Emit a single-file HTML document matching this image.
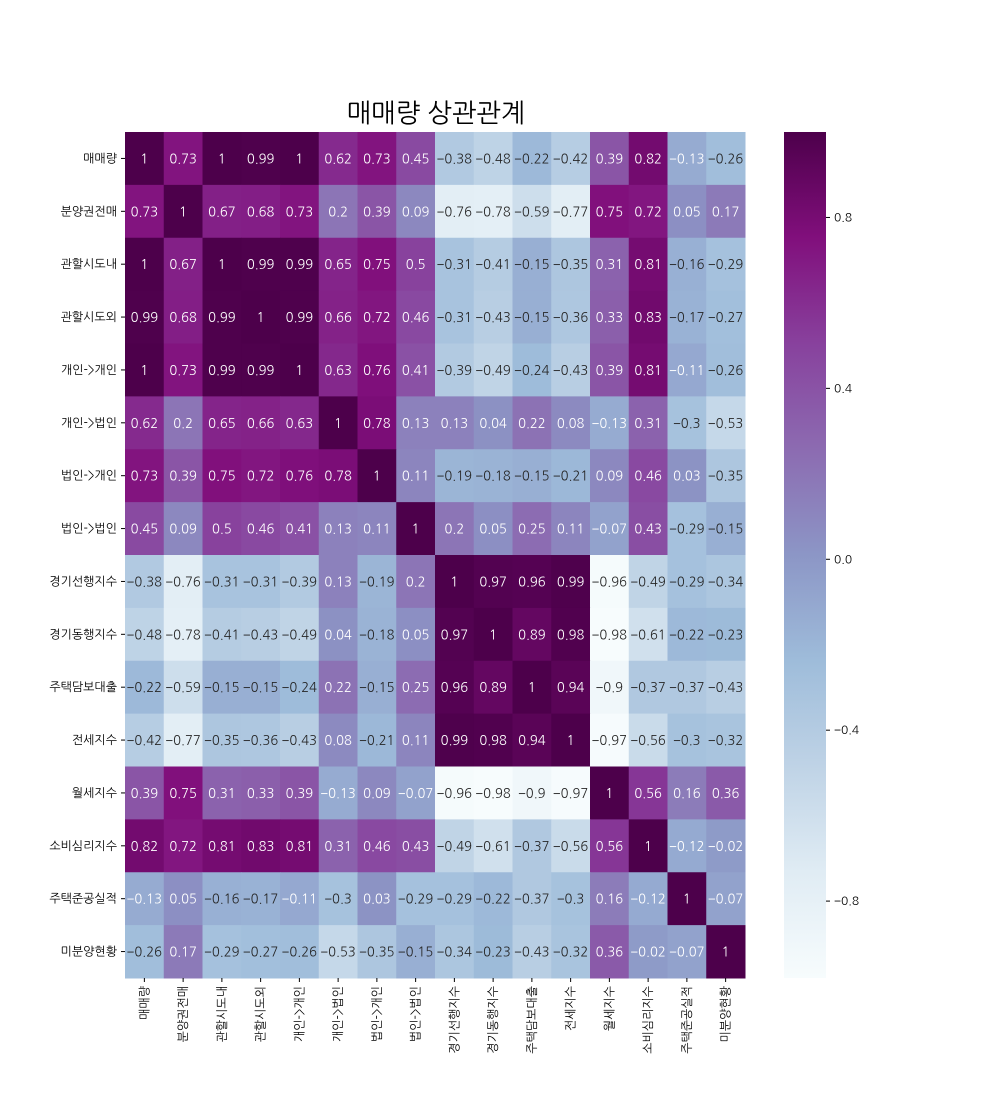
<!DOCTYPE html>
<html><head><meta charset="utf-8">
<style>
body{margin:0;background:#fff;}
svg{display:block;font-family:"NanumGothic","Liberation Sans","Noto Sans CJK KR",sans-serif;}
</style></head>
<body>
<svg id="chart" width="1000" height="1100">
<defs>
<linearGradient id="bupu" x1="0" y1="1" x2="0" y2="0">
<stop offset="0" stop-color="#f7fcfd"/><stop offset="0.125" stop-color="#e0ecf4"/>
<stop offset="0.25" stop-color="#bfd3e6"/><stop offset="0.375" stop-color="#9ebcda"/>
<stop offset="0.5" stop-color="#8c96c6"/><stop offset="0.625" stop-color="#8c6bb1"/>
<stop offset="0.75" stop-color="#88419d"/><stop offset="0.875" stop-color="#810f7c"/>
<stop offset="1" stop-color="#4d004b"/>
</linearGradient>
</defs>
<text x="436" y="122" font-size="26" text-anchor="middle">매매량 상관관계</text>
<g id="cells"></g>
<g id="labels"></g>
<rect x="784" y="132" width="42" height="846" fill="url(#bupu)"/>
<g id="cbticks"></g>
</svg>
<script>
const categories = ["매매량","분양권전매","관할시도내","관할시도외","개인->개인","개인->법인","법인->개인","법인->법인","경기선행지수","경기동행지수","주택담보대출","전세지수","월세지수","소비심리지수","주택준공실적","미분양현황"];
const row0 = [1,0.73,1,0.99,1,0.62,0.73,0.45,-0.38,-0.48,-0.22,-0.42,0.39,0.82,-0.13,-0.26];
const row1 = [0.73,1,0.67,0.68,0.73,0.2,0.39,0.09,-0.76,-0.78,-0.59,-0.77,0.75,0.72,0.05,0.17];
const row2 = [1,0.67,1,0.99,0.99,0.65,0.75,0.5,-0.31,-0.41,-0.15,-0.35,0.31,0.81,-0.16,-0.29];
const row3 = [0.99,0.68,0.99,1,0.99,0.66,0.72,0.46,-0.31,-0.43,-0.15,-0.36,0.33,0.83,-0.17,-0.27];
const row4 = [1,0.73,0.99,0.99,1,0.63,0.76,0.41,-0.39,-0.49,-0.24,-0.43,0.39,0.81,-0.11,-0.26];
const row5 = [0.62,0.2,0.65,0.66,0.63,1,0.78,0.13,0.13,0.04,0.22,0.08,-0.13,0.31,-0.3,-0.53];
const row6 = [0.73,0.39,0.75,0.72,0.76,0.78,1,0.11,-0.19,-0.18,-0.15,-0.21,0.09,0.46,0.03,-0.35];
const row7 = [0.45,0.09,0.5,0.46,0.41,0.13,0.11,1,0.2,0.05,0.25,0.11,-0.07,0.43,-0.29,-0.15];
const row8 = [-0.38,-0.76,-0.31,-0.31,-0.39,0.13,-0.19,0.2,1,0.97,0.96,0.99,-0.96,-0.49,-0.29,-0.34];
const row9 = [-0.48,-0.78,-0.41,-0.43,-0.49,0.04,-0.18,0.05,0.97,1,0.89,0.98,-0.98,-0.61,-0.22,-0.23];
const row10 = [-0.22,-0.59,-0.15,-0.15,-0.24,0.22,-0.15,0.25,0.96,0.89,1,0.94,-0.9,-0.37,-0.37,-0.43];
const row11 = [-0.42,-0.77,-0.35,-0.36,-0.43,0.08,-0.21,0.11,0.99,0.98,0.94,1,-0.97,-0.56,-0.3,-0.32];
const row12 = [0.39,0.75,0.31,0.33,0.39,-0.13,0.09,-0.07,-0.96,-0.98,-0.9,-0.97,1,0.56,0.16,0.36];
const row13 = [0.82,0.72,0.81,0.83,0.81,0.31,0.46,0.43,-0.49,-0.61,-0.37,-0.56,0.56,1,-0.12,-0.02];
const row14 = [-0.13,0.05,-0.16,-0.17,-0.11,-0.3,0.03,-0.29,-0.29,-0.22,-0.37,-0.3,0.16,-0.12,1,-0.07];
const row15 = [-0.26,0.17,-0.29,-0.27,-0.26,-0.53,-0.35,-0.15,-0.34,-0.23,-0.43,-0.32,0.36,-0.02,-0.07,1];
const matrix = [row0,row1,row2,row3,row4,row5,row6,row7,row8,row9,row10,row11,row12,row13,row14,row15];
const cbTickValues = [0.8,0.4,0.0,-0.4,-0.8];
const cbTickLabels = ["0.8","0.4","0.0","\u22120.4","\u22120.8"];
const vmin = -0.98, vmax = 1.0;

const NS = "http://www.w3.org/2000/svg";
const X0 = 125, Y0 = 132, W = 620, H = 846;
const n = categories.length, cw = W / n, ch = H / n;
const xPos = i => X0 + i * cw;
const yPos = i => Y0 + i * ch;
const cbY = v => Y0 + H * (vmax - v) / (vmax - vmin);

const stops = [[247,252,253],[224,236,244],[191,211,230],[158,188,218],[140,150,198],[140,107,177],[136,65,157],[129,15,124],[77,0,75]];
function color(v){
  let t = Math.max(0, Math.min(1, (v - vmin) / (vmax - vmin))) * 8;
  let i = Math.min(7, Math.floor(t)), f = t - i;
  return stops[i].map((c, k) => Math.round(c + (stops[i+1][k] - c) * f));
}
function lum(c){
  const l = c.map(x => { x /= 255; return x <= 0.03928 ? x / 12.92 : Math.pow((x + 0.055) / 1.055, 2.4); });
  return 0.2126*l[0] + 0.7152*l[1] + 0.0722*l[2];
}
function fmt(v){ return String(v).replace("-", "\u2212"); }

const cells = document.getElementById("cells");
const labels = document.getElementById("labels");
matrix.forEach((row, r) => {
  row.forEach((v, c) => {
    const col = color(v);
    const rect = document.createElementNS(NS, "rect");
    rect.setAttribute("x", xPos(c)); rect.setAttribute("y", yPos(r));
    rect.setAttribute("width", cw + 0.5); rect.setAttribute("height", ch + 0.5);
    rect.setAttribute("fill", `rgb(${col})`);
    
    
    cells.appendChild(rect);
    const t = document.createElementNS(NS, "text");
    t.setAttribute("x", xPos(c) + cw / 2); t.setAttribute("y", yPos(r) + ch / 2 + 5);
    t.setAttribute("text-anchor", "middle"); t.setAttribute("font-size", "13");
    t.setAttribute("fill", lum(col) > 0.408 ? "#262626" : "#ffffff");
    t.textContent = fmt(v);
    
    
    cells.appendChild(t);
  });
});
categories.forEach((name, i) => {
  const yl = document.createElementNS(NS, "text");
  yl.setAttribute("x", X0 - 8); yl.setAttribute("y", yPos(i) + ch / 2 + 4);
  yl.setAttribute("text-anchor", "end"); yl.setAttribute("font-size", "12");
  yl.textContent = name;
  
  
  labels.appendChild(yl);
  const ytk = document.createElementNS(NS, "line");
  ytk.setAttribute("x1", X0 - 4); ytk.setAttribute("x2", X0);
  ytk.setAttribute("y1", yPos(i) + ch / 2); ytk.setAttribute("y2", yPos(i) + ch / 2);
  ytk.setAttribute("stroke", "#000");
  
  
  labels.appendChild(ytk);
  const xc = xPos(i) + cw / 2;
  const xl = document.createElementNS(NS, "text");
  xl.setAttribute("transform", `translate(${xc + 4},${Y0 + H + 8}) rotate(-90)`);
  xl.setAttribute("text-anchor", "end"); xl.setAttribute("font-size", "12");
  xl.textContent = name;
  
  
  labels.appendChild(xl);
  const xtk = document.createElementNS(NS, "line");
  xtk.setAttribute("x1", xc); xtk.setAttribute("x2", xc);
  xtk.setAttribute("y1", Y0 + H); xtk.setAttribute("y2", Y0 + H + 4);
  xtk.setAttribute("stroke", "#000");
  
  
  labels.appendChild(xtk);
});
const cbt = document.getElementById("cbticks");
cbTickValues.forEach((v, i) => {
  const y = cbY(v);
  const l = document.createElementNS(NS, "line");
  l.setAttribute("x1", 826); l.setAttribute("x2", 830);
  l.setAttribute("y1", y); l.setAttribute("y2", y); l.setAttribute("stroke", "#000");
  
  
  cbt.appendChild(l);
  const t = document.createElementNS(NS, "text");
  t.setAttribute("x", 834); t.setAttribute("y", y + 4); t.setAttribute("font-size", "12");
  t.textContent = cbTickLabels[i];
  
  
  cbt.appendChild(t);
});
</script>
</body></html>
